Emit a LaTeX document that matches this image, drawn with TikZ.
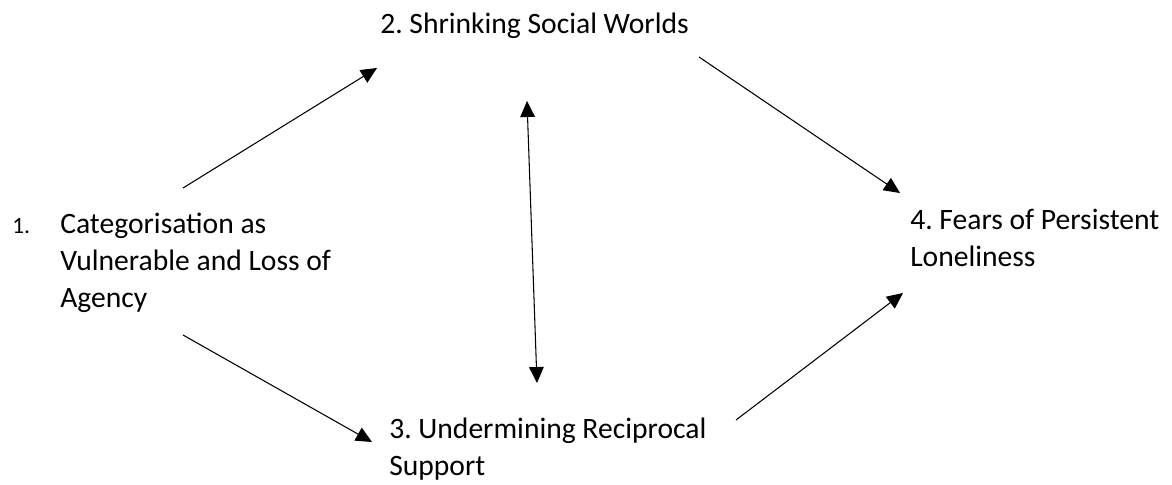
\documentclass[tikz,border=0pt]{standalone}
\usepackage{fontspec}
\setmainfont{Carlito}
\usetikzlibrary{arrows.meta}
\frenchspacing
\begin{document}
\begin{tikzpicture}[x=0.75pt,y=-0.75pt,
  lbl/.style={font=\fontsize{22.2}{27.75}\selectfont, inner sep=0pt, align=left, anchor=base west},
  numlbl/.style={font=\fontsize{17.5}{27.75}\selectfont, inner sep=0pt, anchor=base west},
  conn/.style={line width=0.8pt, -{Triangle[length=12pt,width=11pt]}},
  biconn/.style={line width=0.8pt, {Triangle[length=12pt,width=11pt]}-{Triangle[length=12pt,width=11pt]}},
  ]
\useasboundingbox (0,0) rectangle (1172,485);
% base anchor of a multi-line node is the baseline of its last line
\node[lbl] (n2) at (380,34) {2. Shrinking Social Worlds};
\node[lbl] (n4) at (910,266) {4. Fears of Persistent\\Loneliness};
\node[numlbl] (n1num) at (12,233) {1.};
\node[lbl] (n1) at (60,307) {Categorisation as\\Vulnerable and Loss of\\Agency};
\node[lbl] (n3) at (389,475) {3. Undermining Reciprocal\\Support};
% connector ends
\coordinate (a12s) at (183,188);  \coordinate (a12e) at (377,68);
\coordinate (a13s) at (183,335);  \coordinate (a13e) at (372,442);
\coordinate (a23s) at (527,101);  \coordinate (a23e) at (537,383);
\coordinate (a24s) at (699,57);   \coordinate (a24e) at (900,193);
\coordinate (a34s) at (736,420);  \coordinate (a34e) at (903,293);
\draw[conn] (a12s) -- (a12e);
\draw[conn] (a13s) -- (a13e);
\draw[biconn] (a23s) -- (a23e);
\draw[conn] (a24s) -- (a24e);
\draw[conn] (a34s) -- (a34e);
\end{tikzpicture}
\end{document}
